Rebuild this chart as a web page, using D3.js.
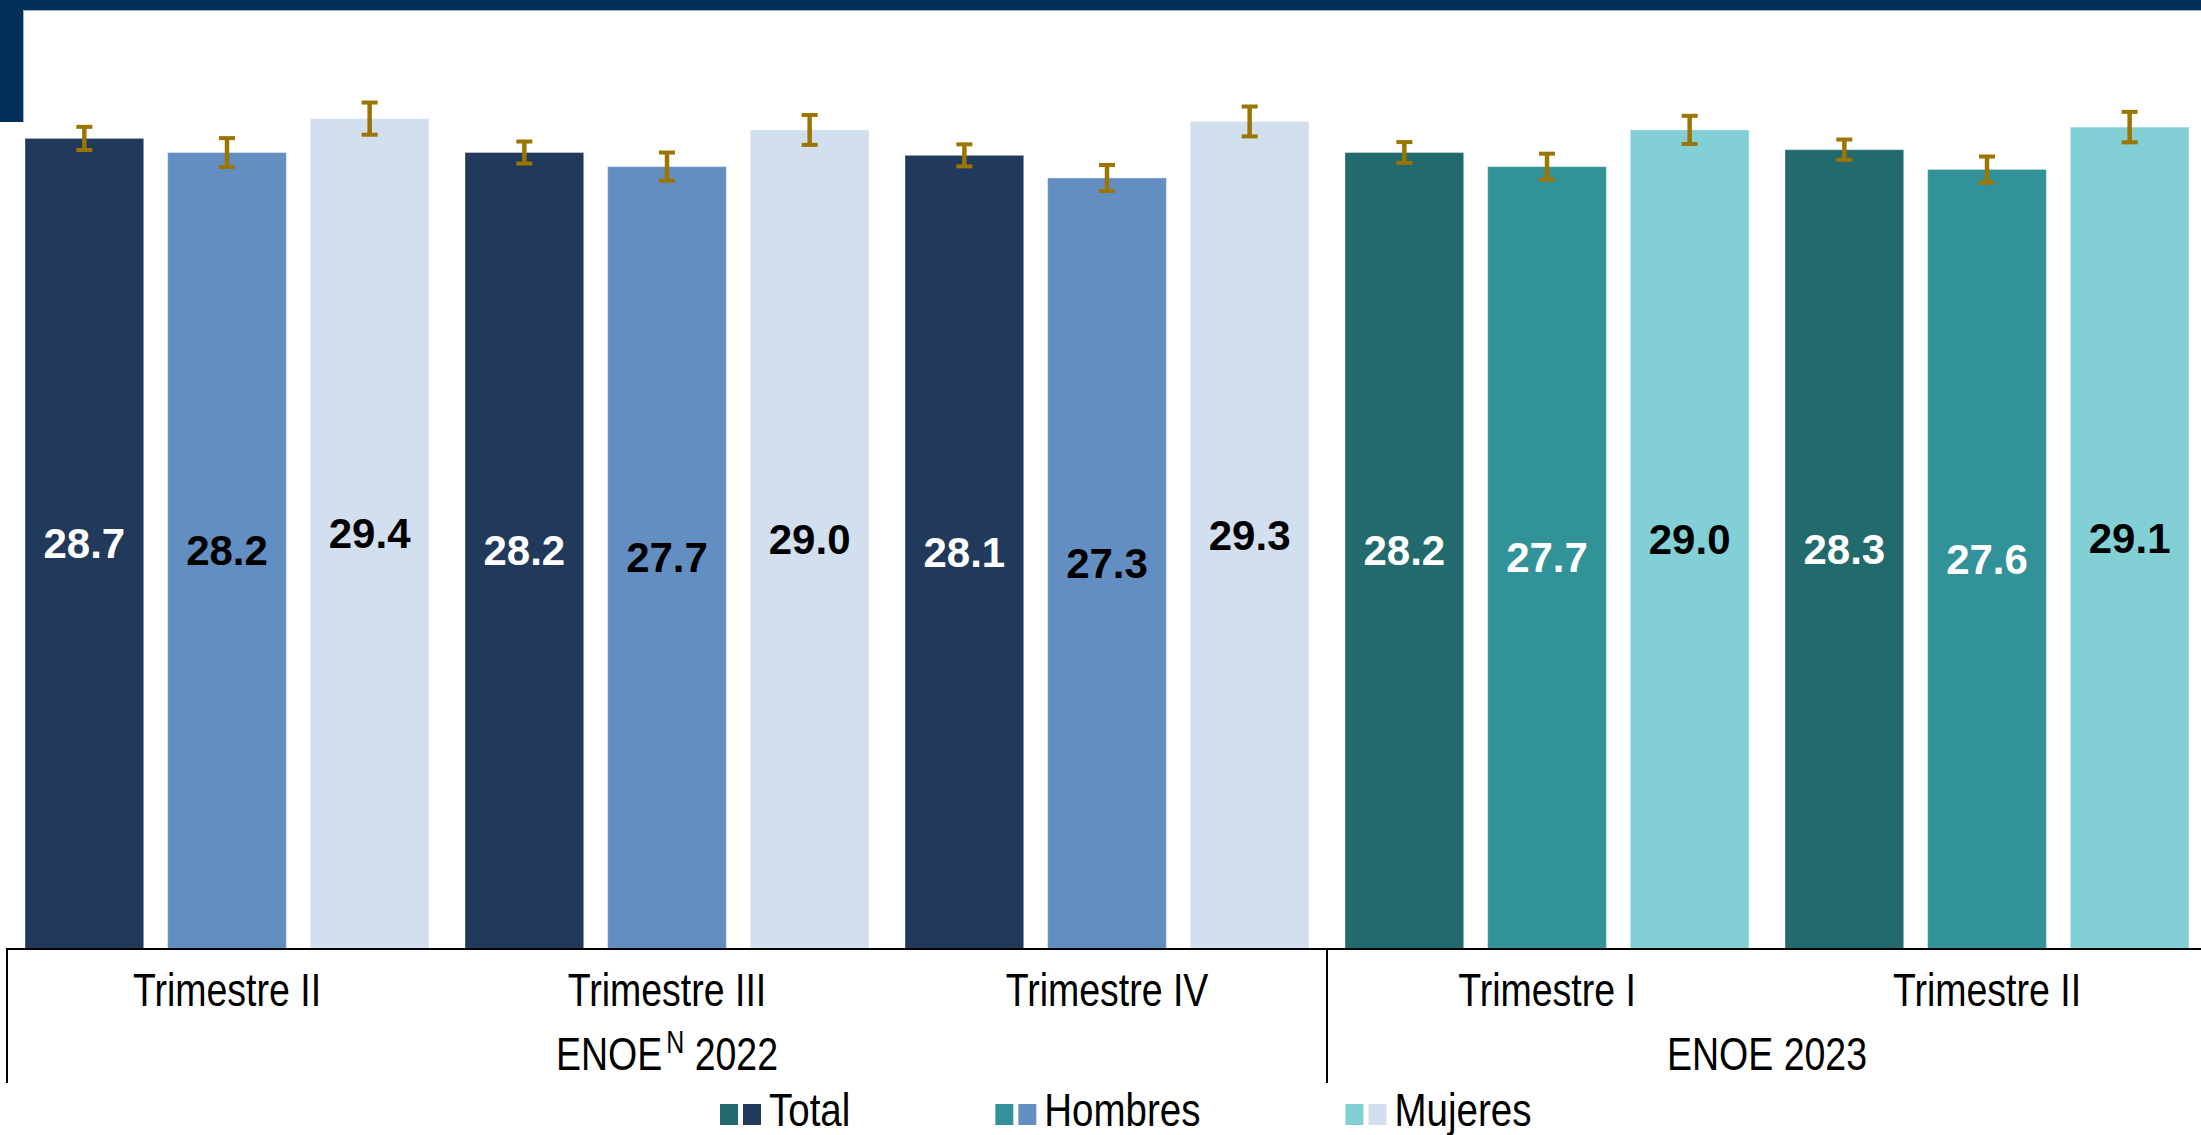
<!DOCTYPE html>
<html>
<head>
<meta charset="utf-8">
<script src="https://cdn.jsdelivr.net/npm/d3@7"></script>
<style>
  html, body { margin: 0; padding: 0; background: #ffffff; }
  svg { display: block; }
</style>
</head>
<body>
<svg id="chart" width="2201" height="1135"></svg>
<script>
// ---------- data ----------
const categories = ["2022-T2", "2022-T3", "2022-T4", "2023-T1", "2023-T2"];
const tickLabels = ["Trimestre II", "Trimestre III", "Trimestre IV", "Trimestre I", "Trimestre II"];
const categoryYear = ["2022", "2022", "2022", "2023", "2023"];
const series = ["Total", "Hombres", "Mujeres"];
const totalValues   = [28.7, 28.2, 28.1, 28.2, 28.3];
const hombresValues = [28.2, 27.7, 27.3, 27.7, 27.6];
const mujeresValues = [29.4, 29.0, 29.3, 29.0, 29.1];
const totalErr   = [0.48, 0.46, 0.46, 0.44, 0.43];
const hombresErr = [0.58, 0.57, 0.53, 0.53, 0.53];
const mujeresErr = [0.64, 0.60, 0.60, 0.57, 0.61];
const yearGroups = [
  { year: "2022", label: "ENOE", sup: "N", tail: " 2022" },
  { year: "2023", label: "ENOE 2023", sup: "", tail: "" }
];
const palette = {
  "2022": { Total: "#21395b", Hombres: "#638ec2", Mujeres: "#d2dfee" },
  "2023": { Total: "#236a6e", Hombres: "#32929a", Mujeres: "#82d0d6" }
};
const labelColor = {
  "2022": { Total: "#ffffff", Hombres: "#000000", Mujeres: "#000000" },
  "2023": { Total: "#ffffff", Hombres: "#ffffff", Mujeres: "#000000" }
};

const valuesBySeries = { Total: totalValues, Hombres: hombresValues, Mujeres: mujeresValues };
const errBySeries = { Total: totalErr, Hombres: hombresErr, Mujeres: mujeresErr };

// ---------- layout ----------
const svg = d3.select("#chart");
const W = 2201, H = 1135;
const baseY = 949;
const plotLeft = 7;
const axisFont = "'Liberation Sans', Arial, sans-serif";
const stretch = 1.22;

// header decoration
svg.append("rect").attr("x", 0).attr("y", 0).attr("width", W).attr("height", 10).attr("fill", "#003057");
svg.append("rect").attr("x", 0).attr("y", 0).attr("width", 23).attr("height", 122).attr("fill", "#003057");
svg.append("line").attr("x1", 23).attr("x2", W).attr("y1", 10.5).attr("y2", 10.5)
  .attr("stroke", "#9fb3c8").attr("stroke-width", 1);
svg.append("line").attr("x1", 23.5).attr("x2", 23.5).attr("y1", 10).attr("y2", 122)
  .attr("stroke", "#9fb3c8").attr("stroke-width", 1);

const x0 = d3.scaleBand().domain(categories).range([plotLeft, plotLeft + 2200]).paddingInner(0).paddingOuter(0);
const x1 = d3.scaleBand().domain(series).range([18, 422]).paddingInner(24 / 143).paddingOuter(0);
const y = d3.scaleLinear().domain([0, 33.6]).range([baseY, 0]);

const rows = [];
categories.forEach((c, i) => {
  series.forEach(s => {
    rows.push({ cat: c, i, s, v: valuesBySeries[s][i], e: errBySeries[s][i], yr: categoryYear[i] });
  });
});

const g = svg.append("g");

// bars
g.selectAll("rect.bar").data(rows).enter().append("rect")
  .attr("class", "bar")
  .attr("x", d => x0(d.cat) + x1(d.s))
  .attr("width", x1.bandwidth())
  .attr("y", d => y(d.v))
  .attr("height", d => y(0) - y(d.v))
  .attr("fill", d => palette[d.yr][d.s])
  .attr("stroke", "rgba(255,255,255,0.35)")
  .attr("stroke-width", 1);

// error bars
const errColor = "#9c7500";
const eb = g.selectAll("g.err").data(rows).enter().append("g").attr("class", "err");
eb.append("line")
  .attr("x1", d => x0(d.cat) + x1(d.s) + x1.bandwidth() / 2)
  .attr("x2", d => x0(d.cat) + x1(d.s) + x1.bandwidth() / 2)
  .attr("y1", d => y(d.v + d.e) + 2)
  .attr("y2", d => y(d.v - d.e) - 2)
  .attr("stroke", errColor).attr("stroke-width", 4.5);
eb.append("rect")
  .attr("x", d => x0(d.cat) + x1(d.s) + x1.bandwidth() / 2 - 8)
  .attr("y", d => y(d.v + d.e))
  .attr("width", 16).attr("height", 4).attr("fill", errColor);
eb.append("rect")
  .attr("x", d => x0(d.cat) + x1(d.s) + x1.bandwidth() / 2 - 8)
  .attr("y", d => y(d.v - d.e) - 4)
  .attr("width", 16).attr("height", 4).attr("fill", errColor);

// value labels
g.selectAll("text.val").data(rows).enter().append("text")
  .attr("class", "val")
  .attr("x", d => x0(d.cat) + x1(d.s) + x1.bandwidth() / 2)
  .attr("y", d => y(d.v / 2))
  .attr("text-anchor", "middle")
  .attr("dominant-baseline", "central")
  .attr("font-family", "'Liberation Sans', Arial, sans-serif")
  .attr("font-weight", "bold")
  .attr("font-size", 42)
  .attr("fill", d => labelColor[d.yr][d.s])
  .text(d => d3.format(".1f")(d.v));

// axis lines
const lineEnd = 1083;
svg.append("line").attr("x1", plotLeft).attr("x2", W).attr("y1", baseY).attr("y2", baseY)
  .attr("stroke", "#000").attr("stroke-width", 2);
svg.append("line").attr("x1", plotLeft).attr("x2", plotLeft).attr("y1", baseY - 1).attr("y2", lineEnd)
  .attr("stroke", "#000").attr("stroke-width", 2);
const sepIndex = categoryYear.indexOf("2023");
const sepX = x0(categories[sepIndex]);
svg.append("line").attr("x1", sepX).attr("x2", sepX).attr("y1", baseY).attr("y2", lineEnd)
  .attr("stroke", "#000").attr("stroke-width", 2);

// category tick labels
svg.selectAll("text.tick").data(categories).enter().append("text")
  .attr("class", "tick")
  .attr("transform", (c, i) => `translate(${x0(c) + x0.bandwidth() / 2},1006) scale(1,${stretch})`)
  .attr("text-anchor", "middle")
  .attr("font-family", axisFont)
  .attr("font-size", 37.5)
  .attr("fill", "#000")
  .text((c, i) => tickLabels[i]);

// year group labels
yearGroups.forEach(gr => {
  const cats = categories.filter((c, i) => categoryYear[i] === gr.year);
  const cx = (x0(cats[0]) + x0(cats[cats.length - 1]) + x0.bandwidth()) / 2;
  const t = svg.append("text")
    .attr("transform", `translate(${cx},1070) scale(1,${stretch})`)
    .attr("text-anchor", "middle")
    .attr("font-family", axisFont)
    .attr("font-size", 37.5)
    .attr("fill", "#000");
  t.append("tspan").text(gr.label);
  if (gr.sup) {
    t.append("tspan").attr("font-size", 25).attr("dy", -14).attr("dx", 4).text(gr.sup);
    t.append("tspan").attr("dy", 14).text(gr.tail);
  }
});

// legend
const legendX0 = 720;
const legendItemGap = 145;
let lx = legendX0;
series.forEach(s => {
  const item = svg.append("g");
  item.append("rect").attr("x", lx).attr("y", 1104).attr("width", 18).attr("height", 21)
    .attr("fill", palette["2023"][s]);
  item.append("rect").attr("x", lx + 23).attr("y", 1104).attr("width", 18).attr("height", 21)
    .attr("fill", palette["2022"][s]);
  const tx = lx + 49;
  const t = item.append("text")
    .attr("transform", `translate(${tx},1126) scale(1,${stretch})`)
    .attr("font-family", axisFont)
    .attr("font-size", 38.5)
    .attr("fill", "#000")
    .text(s);
  const w = t.node().getComputedTextLength();
  lx = tx + w + legendItemGap;
});
</script>
</body>
</html>
